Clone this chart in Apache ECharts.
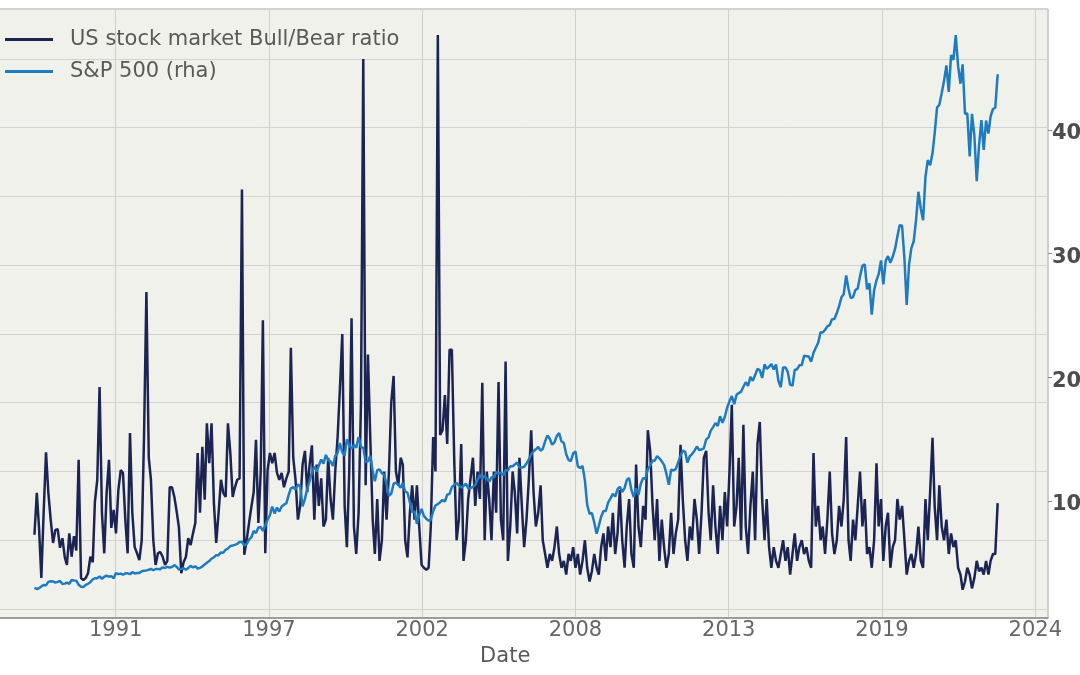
<!DOCTYPE html>
<html><head><meta charset="utf-8">
<script src="https://cdn.jsdelivr.net/npm/echarts@6/dist/echarts.min.js"></script>
<style>html,body{margin:0;padding:0;background:#fff;overflow:hidden}#c{width:1080px;height:675px}</style>
</head><body><div id="c"></div>
<script>
// Monthly observations, first month = Jan 1989
const startYear = 1989;
const seriesNames = ['US stock market Bull/Bear ratio', 'S&P 500 (rha)'];

const bullBear = [
  // 1989
  1.08,1.69,1.2,0.45,1.4,2.28,1.7,1.3,0.96,1.15,1.16,0.89,
  // 1990
  1.03,0.75,0.64,1.1,0.76,1.06,0.85,2.17,0.45,0.42,0.45,0.52,
  // 1991
  0.76,0.68,1.56,1.88,3.23,1.4,0.81,1.69,2.17,1.18,1.44,1.1,
  // 1992
  1.73,2.02,1.98,1.3,0.81,2.56,1.4,0.9,0.81,0.71,1.0,2.5,
  // 1993
  4.61,2.2,1.88,1.0,0.64,0.81,0.83,0.76,0.64,0.7,1.77,1.77,
  // 1994
  1.63,1.41,1.19,0.52,0.68,0.76,1.03,0.93,1.1,1.25,2.27,1.4,
  // 1995
  2.36,1.59,2.7,2.12,2.7,1.54,0.96,1.4,1.88,1.69,1.63,2.7,
  // 1996
  2.27,1.63,1.77,1.88,1.9,6.1,0.79,1.0,1.25,1.48,1.7,2.46,
  // 1997
  1.25,2.0,4.2,0.81,2.02,2.27,2.12,2.27,1.98,1.88,1.98,1.77,
  // 1998
  1.9,2.0,3.8,2.2,1.88,1.3,1.5,2.1,2.3,1.7,2.1,2.38,
  // 1999
  1.3,2.1,1.5,1.9,1.2,1.3,2.2,1.6,1.3,2.0,2.5,3.2,
  // 2000
  4.0,1.5,0.9,2.0,4.23,1.2,0.8,1.4,3.0,8.0,1.8,3.7,
  // 2001
  2.46,1.3,0.8,1.6,0.7,1.0,2.0,1.3,2.0,3.0,3.39,2.0,
  // 2002
  1.8,2.2,2.1,1.0,0.75,1.4,1.8,1.3,1.8,1.2,0.64,0.6,
  // 2003
  0.57,0.6,1.2,2.5,2.0,8.35,2.53,2.6,3.11,2.4,3.77,3.77,
  // 2004
  2.17,1.0,1.3,2.4,0.7,1.0,1.6,1.9,2.2,1.5,2.0,1.6,
  // 2005
  3.29,1.0,2.0,1.6,1.0,2.0,1.4,3.3,1.3,1.0,3.6,0.7,
  // 2006
  1.2,2.0,1.7,1.1,2.2,1.5,0.9,1.3,1.9,2.6,1.7,1.2,
  // 2007
  1.4,1.8,1.0,0.8,0.6,0.8,0.7,0.9,1.2,0.8,0.6,0.7,
  // 2008
  0.5,0.8,0.7,0.9,0.6,0.8,0.5,0.7,1.0,0.6,0.4,0.55,
  // 2009
  0.8,0.6,0.5,0.9,1.1,0.7,1.2,0.9,1.4,0.8,1.1,1.73,
  // 2010
  1.0,0.6,1.2,1.6,0.8,0.6,2.1,1.2,0.9,1.5,1.3,2.6,
  // 2011
  2.3,1.5,1.0,1.6,0.7,1.3,0.9,0.6,0.8,1.4,0.8,1.1,
  // 2012
  1.3,2.39,1.6,1.0,0.7,1.2,1.0,1.6,1.3,0.8,1.4,2.2,
  // 2013
  2.3,1.4,1.0,1.8,1.2,0.8,1.5,1.0,1.7,1.2,2.0,2.97,
  // 2014
  1.2,1.5,2.2,1.0,2.68,1.2,0.8,1.5,2.0,1.0,2.4,2.72,
  // 2015
  1.6,1.0,1.6,0.9,0.6,0.9,0.7,0.6,0.8,1.0,0.7,0.9,
  // 2016
  0.5,0.8,1.1,0.7,0.9,1.0,0.8,0.9,0.7,0.6,2.27,1.2,
  // 2017
  1.5,1.0,1.2,0.8,1.3,2.0,1.1,0.8,1.0,1.5,1.2,1.6,
  // 2018
  2.5,1.0,0.7,1.3,1.0,1.5,2.0,1.2,1.6,0.8,0.9,0.6,
  // 2019
  1.0,2.12,1.2,1.6,0.7,1.2,1.4,0.6,0.9,1.0,1.6,1.3,
  // 2020
  1.5,1.0,0.5,0.7,0.8,0.6,0.8,1.2,0.7,0.6,1.6,1.0,
  // 2021
  1.7,2.49,1.5,1.0,1.8,1.2,1.0,1.3,0.8,1.1,0.9,1.0,
  // 2022
  0.6,0.5,0.28,0.4,0.6,0.5,0.3,0.45,0.7,0.55,0.6,0.5,
  // 2023
  0.7,0.5,0.7,0.8,0.8,1.54
];

const sp500 = [
  // 1989
  297.5,288.9,294.9,309.6,320.5,318.0,346.1,351.5,349.2,340.4,346.0,353.4,
  // 1990
  329.1,331.9,339.9,330.8,361.2,358.0,356.2,322.6,306.1,304.0,322.2,330.2,
  // 1991
  343.9,367.1,375.2,375.3,389.8,371.2,387.8,395.4,387.9,392.5,375.2,417.1,
  // 1992
  408.8,412.7,403.7,415.0,415.4,408.1,424.2,414.0,417.8,418.7,431.4,435.7,
  // 1993
  438.8,443.4,451.7,440.2,450.2,450.5,448.1,463.6,458.9,467.8,461.8,466.5,
  // 1994
  481.6,467.1,445.8,450.9,456.5,444.3,458.3,475.5,462.7,472.4,453.7,459.3,
  // 1995
  470.4,487.4,500.7,514.7,533.4,544.8,562.1,561.9,584.4,581.5,605.4,615.9,
  // 1996
  636.0,640.4,645.5,654.2,669.1,670.6,640.0,652.0,687.3,705.3,757.0,740.7,
  // 1997
  786.2,790.8,757.1,801.3,848.3,885.1,954.3,899.5,947.3,914.6,955.4,970.4,
  // 1998
  980.3,1049.3,1101.8,1111.8,1090.8,1133.8,1120.7,957.3,1017.0,1098.7,1163.6,1229.2,
  // 1999
  1279.6,1238.3,1286.4,1335.2,1301.8,1372.7,1328.7,1320.4,1282.7,1362.9,1388.9,1469.3,
  // 2000
  1394.5,1366.4,1498.6,1452.4,1420.6,1454.6,1430.8,1517.7,1436.5,1429.4,1315.2,1320.3,
  // 2001
  1366.0,1239.9,1160.3,1249.5,1255.8,1224.4,1211.2,1133.6,1040.9,1059.8,1139.5,1148.1,
  // 2002
  1130.2,1106.7,1147.4,1076.9,1067.1,989.8,911.6,916.1,815.3,885.8,936.3,879.8,
  // 2003
  855.7,841.2,848.2,916.9,963.6,974.5,990.3,1008.0,996.0,1050.7,1058.2,1111.9,
  // 2004
  1131.1,1144.9,1126.2,1107.3,1120.7,1140.8,1101.7,1104.2,1114.6,1130.2,1173.8,1211.9,
  // 2005
  1181.3,1203.6,1180.6,1156.9,1191.5,1191.3,1234.2,1220.3,1228.8,1207.0,1249.5,1248.3,
  // 2006
  1280.1,1280.7,1294.9,1310.6,1270.1,1270.2,1276.7,1303.8,1335.9,1377.9,1400.6,1418.3,
  // 2007
  1438.2,1406.8,1420.9,1482.4,1530.6,1503.4,1455.3,1474.0,1526.8,1549.4,1481.1,1468.4,
  // 2008
  1378.6,1330.6,1322.7,1385.6,1400.4,1280.0,1267.4,1282.8,1166.4,968.8,896.2,903.3,
  // 2009
  825.9,735.1,797.9,872.8,919.1,919.3,987.5,1020.6,1057.1,1036.2,1095.6,1115.1,
  // 2010
  1073.9,1104.5,1169.4,1186.7,1089.4,1030.7,1101.6,1049.3,1141.2,1183.3,1180.6,1257.6,
  // 2011
  1286.1,1327.2,1325.8,1363.6,1345.2,1320.6,1292.3,1218.9,1131.4,1253.3,1247.0,1257.6,
  // 2012
  1312.4,1365.7,1408.5,1397.9,1310.3,1362.2,1379.3,1406.6,1440.7,1412.2,1416.2,1426.2,
  // 2013
  1498.1,1514.7,1569.2,1597.6,1630.7,1606.3,1685.7,1633.0,1681.6,1756.5,1805.8,1848.4,
  // 2014
  1782.6,1859.5,1872.3,1884.0,1923.6,1960.2,1930.7,2003.4,1972.3,2018.1,2067.6,2058.9,
  // 2015
  1995.0,2104.5,2067.9,2085.5,2107.4,2063.1,2103.8,1972.2,1920.0,2079.4,2080.4,2043.9,
  // 2016
  1940.2,1932.2,2059.7,2065.3,2097.0,2098.9,2173.6,2171.0,2168.3,2126.2,2199.0,2238.8,
  // 2017
  2278.9,2363.6,2362.7,2384.2,2411.8,2423.4,2470.3,2471.7,2519.4,2575.3,2647.6,2673.6,
  // 2018
  2823.8,2713.8,2640.9,2648.1,2705.3,2718.4,2816.3,2901.5,2914.0,2711.7,2760.2,2506.9,
  // 2019
  2704.1,2784.5,2834.4,2945.8,2752.1,2941.8,2980.4,2926.5,2976.7,3037.6,3141.0,3230.8,
  // 2020
  3225.5,2954.2,2584.6,2912.4,3044.3,3100.3,3271.1,3500.3,3363.0,3270.0,3621.6,3756.1,
  // 2021
  3714.2,3811.2,3972.9,4181.2,4204.1,4297.5,4395.3,4522.7,4307.5,4605.4,4567.0,4766.2,
  // 2022
  4515.6,4373.9,4530.4,4131.9,4132.2,3785.4,4130.3,3955.0,3585.6,3872.0,4080.1,3839.5,
  // 2023
  4076.6,3970.2,4109.3,4169.5,4179.8,4450.4
];

const rightTickLabels = [1000, 2000, 3000, 4000];
const xTickDays = [8000, 10000, 12000, 14000, 16000, 18000, 20000];

const DAY = 86400000;
function monthDay(i) { return Date.UTC(startYear, i, 1) / DAY; }
const bbData = bullBear.map((v, i) => [monthDay(i), v]);
const spData = sp500.map((v, i) => [monthDay(i), v]);

const FONT = 'DejaVu Sans';
const chart = echarts.init(document.getElementById('c'), null, {renderer: 'canvas'});
chart.setOption({
  animation: false,
  backgroundColor: '#ffffff',
  grid: {
    left: -37.6, right: 32, top: 9, bottom: 57,
    containLabel: false, outerBoundsMode: 'none',
    show: true, backgroundColor: '#f1f1ec', borderColor: '#a8a8a8', borderWidth: 1
  },
  legend: {
    orient: 'vertical', left: 0, top: 24, itemGap: 11,
    itemWidth: 48, itemHeight: 3, icon: 'rect',
    textStyle: {fontFamily: FONT, fontSize: 21, color: '#595959', padding: [0, 0, 0, 12]},
    data: seriesNames
  },
  xAxis: {
    type: 'value', min: 6000, max: 20166, interval: 2000,
    name: 'Date', nameLocation: 'middle', nameGap: 27,
    nameTextStyle: {fontFamily: FONT, fontSize: 21, color: '#595959'},
    axisLine: {show: true, onZero: false, lineStyle: {color: '#8c8c8c', width: 1.5}},
    axisTick: {show: false},
    axisLabel: {
      fontFamily: FONT, fontSize: 21, color: '#666', margin: 2,
      showMinLabel: false, showMaxLabel: false,
      formatter: v => xTickDays.indexOf(Math.round(v)) >= 0 ? String(new Date(v * DAY).getUTCFullYear()) : ''
    },
    splitLine: {show: true, lineStyle: {color: '#cfcfcf', width: 1}}
  },
  yAxis: [
    {
      type: 'value', min: -0.131, max: 8.727, splitNumber: 9, position: 'left',
      axisLine: {show: false}, axisTick: {show: false}, axisLabel: {show: false},
      splitLine: {show: true, lineStyle: {color: '#d2d2d2', width: 1}}
    },
    {
      type: 'value', min: 54, max: 4978, splitNumber: 5, position: 'right',
      axisLine: {show: false},
      axisTick: {show: true, length: 4, lineStyle: {color: '#888'}},
      splitLine: {show: false},
      axisLabel: {
        margin: 4,
        showMinLabel: false, showMaxLabel: false,
        formatter: v => rightTickLabels.indexOf(Math.round(v)) >= 0 ? '{v|' + Math.round(v) + '}' : '',
        rich: {
          v: {fontFamily: FONT, fontSize: 21, fontWeight: 'bold', color: '#4d4d4d', padding: [8, 0, 0, 0]}
        }
      }
    }
  ],
  series: [
    {
      name: seriesNames[0], type: 'line', yAxisIndex: 0, data: bbData,
      showSymbol: false, symbol: 'none',
      lineStyle: {color: '#1b2453', width: 2.5}, itemStyle: {color: '#1b2453'}
    },
    {
      name: seriesNames[1], type: 'line', yAxisIndex: 1, data: spData,
      showSymbol: false, symbol: 'none',
      lineStyle: {color: '#1f7bbf', width: 2.5}, itemStyle: {color: '#1f7bbf'}
    }
  ]
});
</script>
</body></html>
